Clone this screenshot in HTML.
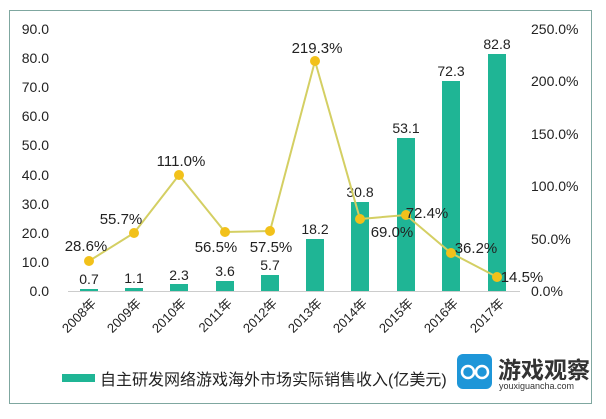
<!DOCTYPE html>
<html><head><meta charset="utf-8"><style>
body{margin:0;background:#fff;}
svg text{font-family:"Liberation Sans","Noto Sans CJK SC",sans-serif;}
</style></head><body>
<svg width="606" height="414" xmlns="http://www.w3.org/2000/svg">
<rect x="0" y="0" width="606" height="414" fill="#fff"/>
<rect x="9.5" y="10.5" width="582" height="393" fill="#fff" stroke="#7fa7a0" stroke-width="1"/>
<g font-size="14" fill="#222" text-anchor="end">
<text x="49" y="34">90.0</text><text x="49" y="63">80.0</text><text x="49" y="92">70.0</text>
<text x="49" y="121">60.0</text><text x="49" y="150">50.0</text><text x="49" y="180">40.0</text>
<text x="49" y="209">30.0</text><text x="49" y="238">20.0</text><text x="49" y="267">10.0</text>
<text x="49" y="296">0.0</text>
</g>
<g font-size="14" fill="#222">
<text x="531" y="34">250.0%</text><text x="531" y="86">200.0%</text><text x="531" y="139">150.0%</text>
<text x="531" y="191">100.0%</text><text x="531" y="244">50.0%</text><text x="531" y="296">0.0%</text>
</g>
<line x1="68" y1="291.5" x2="520" y2="291.5" stroke="#ccc"/>
<g fill="#1fb595">
<rect x="80" y="289" width="18" height="2"/>
<rect x="125" y="288" width="18" height="3"/>
<rect x="170" y="284" width="18" height="7"/>
<rect x="216" y="281" width="18" height="10"/>
<rect x="261" y="275" width="18" height="16"/>
<rect x="306" y="239" width="18" height="52"/>
<rect x="351" y="202" width="18" height="89"/>
<rect x="397" y="138" width="18" height="153"/>
<rect x="442" y="81" width="18" height="210"/>
<rect x="488" y="54" width="18" height="237"/>
</g>
<g font-size="14" fill="#222" text-anchor="middle">
<text x="89" y="284">0.7</text><text x="134" y="283">1.1</text><text x="179" y="280">2.3</text>
<text x="225" y="276">3.6</text><text x="270" y="270">5.7</text><text x="315" y="234">18.2</text>
<text x="360" y="197">30.8</text><text x="406" y="133">53.1</text><text x="451" y="76">72.3</text>
<text x="497" y="49">82.8</text>
</g>
<polyline fill="none" stroke="#d4cf63" stroke-width="2" points="89,261 134,233 179,175 225,232 270,231 315,61 360,219 406,215 451,253 497,277"/>
<g fill="#f2c11a">
<circle cx="89" cy="261" r="5"/><circle cx="134" cy="233" r="5"/><circle cx="179" cy="175" r="5"/>
<circle cx="225" cy="232" r="5"/><circle cx="270" cy="231" r="5"/><circle cx="315" cy="61" r="5"/>
<circle cx="360" cy="219" r="5"/><circle cx="406" cy="215" r="5"/><circle cx="451" cy="253" r="5"/>
<circle cx="497" cy="277" r="5"/>
</g>
<g font-size="15" fill="#222" text-anchor="middle">
<text x="86" y="251">28.6%</text><text x="121" y="224">55.7%</text><text x="181" y="166">111.0%</text>
<text x="216" y="252">56.5%</text><text x="271" y="252">57.5%</text><text x="317" y="53">219.3%</text>
<text x="392" y="237">69.0%</text><text x="427" y="218">72.4%</text><text x="476" y="253">36.2%</text>
<text x="522" y="282">14.5%</text>
</g>
<g font-size="13" fill="#222" text-anchor="end">
<text transform="translate(97,304) rotate(-45)">2008年</text>
<text transform="translate(142,304) rotate(-45)">2009年</text>
<text transform="translate(187,304) rotate(-45)">2010年</text>
<text transform="translate(233,304) rotate(-45)">2011年</text>
<text transform="translate(278,304) rotate(-45)">2012年</text>
<text transform="translate(323,304) rotate(-45)">2013年</text>
<text transform="translate(368,304) rotate(-45)">2014年</text>
<text transform="translate(414,304) rotate(-45)">2015年</text>
<text transform="translate(459,304) rotate(-45)">2016年</text>
<text transform="translate(505,304) rotate(-45)">2017年</text>
</g>
<rect x="62" y="374" width="33" height="8" fill="#1fb595"/>
<text x="100" y="385" font-size="16" fill="#222">自主研发网络游戏海外市场实际销售收入(亿美元)</text>
<rect x="457" y="354" width="35" height="35" rx="6" fill="#1e96d8"/>
<circle cx="468" cy="372" r="6" fill="none" stroke="#fff" stroke-width="2.5"/>
<circle cx="482" cy="372" r="6" fill="none" stroke="#fff" stroke-width="2.5"/>
<text x="498" y="378" font-size="23" font-weight="bold" fill="#333">游戏观察</text>
<text x="499" y="389" font-size="9" fill="#333">youxiguancha.com</text>
</svg>
</body></html>
